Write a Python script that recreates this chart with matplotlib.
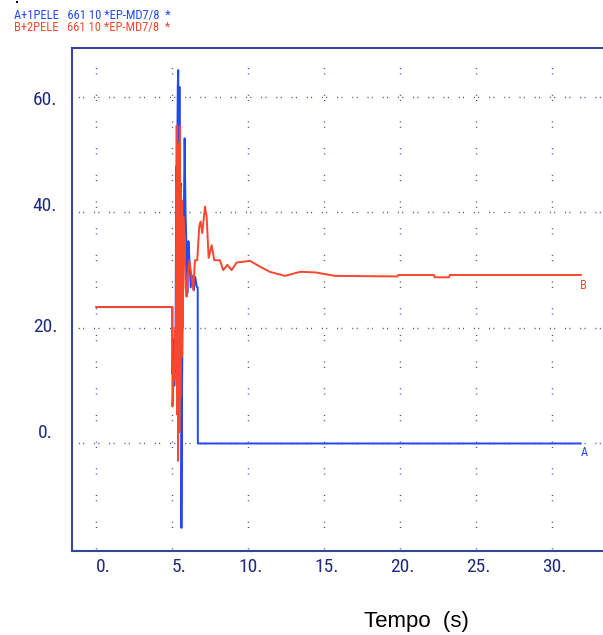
import matplotlib
matplotlib.use("Agg")
import matplotlib.pyplot as plt
from matplotlib import font_manager
from matplotlib.patches import Rectangle
from matplotlib.transforms import ScaledTranslation

# ---- data -----------------------------------------------------------------
# Series A: 1PELE (generator 1 electrical power), trips shortly after the fault
time_a = [0.0, 4.99, 5.00, 5.05, 5.12, 5.20, 5.25, 5.30, 5.35, 5.38, 5.42,
          5.46, 5.50, 5.55, 5.59, 5.63, 5.70, 5.75, 5.80, 5.86, 5.92, 5.98,
          6.05, 6.12, 6.20, 6.30, 6.40, 6.50, 6.60, 6.66, 6.67, 31.85]
pele_a = [23.6, 23.6, 12.0, 18.0, 10.0, 15.0, 48.0, 44.0, 62.0, 64.6, 30.0,
          61.7, 23.0, 45.0, -14.6, 10.0, 30.0, 40.0, 52.8, 40.0, 34.0, 26.0,
          35.0, 31.7, 27.0, 29.0, 26.5, 28.8, 27.1, 27.0, 0.0, 0.0]

# Series B: 2PELE (generator 2 electrical power), picks up the load
time_b = [0.0, 4.99, 5.00, 5.04, 5.08, 5.12, 5.17, 5.22, 5.28, 5.31, 5.34,
          5.37, 5.41, 5.45, 5.49, 5.52, 5.56, 5.60, 5.64, 5.68, 5.72, 5.76,
          5.80, 5.86, 5.93, 6.00, 6.11, 6.26, 6.37, 6.48, 6.63, 6.76, 6.85,
          6.96, 7.14, 7.25, 7.38, 7.58, 7.75, 8.12, 8.34, 8.61, 8.89, 9.22,
          10.10, 10.76, 11.40, 12.40, 13.40, 14.40, 15.70, 19.80, 19.85,
          22.20, 22.25, 23.20, 23.25, 31.87]
pele_b = [23.6, 23.6, 6.4, 9.0, 14.0, 11.0, 20.0, 13.0, 55.0, 5.0, 52.0,
          -3.0, 50.0, 2.0, 54.8, 8.0, 44.4, 15.0, 42.0, 20.0, 39.2, 31.7,
          36.0, 27.0, 25.4, 29.0, 31.7, 28.9, 26.6, 31.7, 31.7, 37.5, 38.4,
          36.4, 41.0, 39.2, 32.1, 34.3, 31.7, 31.7, 30.0, 30.9, 30.0, 31.3,
          31.6, 30.6, 29.7, 29.0, 29.7, 29.6, 29.0, 28.9, 29.15,
          29.15, 28.75, 28.75, 29.15, 29.15]

x_ticks = [0, 5, 10, 15, 20, 25, 30]
x_tick_labels = ["0.", "5.", "10.", "15.", "20.", "25.", "30."]
y_ticks = [0, 20, 40, 60]
y_tick_labels = ["0.", "20.", "40.", "60."]

header_a = "A+1PELE   661 10 *EP-MD7/8  *"
header_b = "B+2PELE   661 10 *EP-MD7/8  *"
x_title = "Tempo  (s)"

# ---- style ----------------------------------------------------------------
BLUE = "#2447ee"
RED = "#f7472c"
NAVY = "#3646a0"
LABEL = "#1f2b80"

installed = {f.name for f in font_manager.fontManager.ttflist}
narrow = next((n for n in ["Liberation Sans Narrow", "Roboto Condensed",
                           "Liberation Sans"] if n in installed), "DejaVu Sans")
plain = "Liberation Sans" if "Liberation Sans" in installed else "DejaVu Sans"
plt.rcParams["lines.scale_dashes"] = False

W, H = 603, 635
fig = plt.figure(figsize=(W / 100, H / 100), dpi=100)
left_px, right_px, top_px, bottom_px = 72.3, 640.0, 48.3, 551.0
ax = fig.add_axes([left_px / W, (H - bottom_px) / H,
                   (right_px - left_px) / W, (bottom_px - top_px) / H])
ax.set_xlim(-1.59, 35.76)
ax.set_ylim(-18.6, 68.37)

# curves
ax.plot(time_a, pele_a, color=BLUE, lw=1.4, zorder=3)
ax.plot(time_b, pele_b, color=RED, lw=1.4, zorder=4)

# end-of-curve identifiers
ax.annotate("A", xy=(time_a[-1], pele_a[-1]), xytext=(2.4, -6.3),
            textcoords="offset points", ha="center", va="center",
            color=BLUE, fontsize=9, family=narrow)
ax.annotate("B", xy=(time_b[-1], pele_b[-1]), xytext=(1.6, -7.3),
            textcoords="offset points", ha="center", va="center",
            color=RED, fontsize=9, family=narrow)

# dotted grid made of dot pairs
ax.set_xticks(x_ticks, labels=x_tick_labels)
ax.set_yticks(y_ticks, labels=y_tick_labels)
ax.grid(axis="x", color=NAVY, lw=1.0,
        linestyle=(2.27, (0.72, 3.1, 0.72, 14.67)))
ax.grid(axis="y", color=NAVY, lw=1.0,
        linestyle=(6.38, (0.72, 2.4, 0.72, 7.1)))
ax.set_axisbelow(True)

for side in ["left", "bottom", "top"]:
    ax.spines[side].set_color(NAVY)
    ax.spines[side].set_linewidth(1.5)
ax.spines["right"].set_visible(False)

ax.tick_params(axis="both", length=0, labelcolor=LABEL, labelsize=14)
ax.tick_params(axis="x", pad=11.5)
ax.tick_params(axis="y", pad=19.7)

for lab in ax.get_xticklabels():
    lab.set_family(narrow)
    lab.set_ha("right")
    lab.set_va("center")
    lab.set_transform(lab.get_transform() +
                      ScaledTranslation(0.14, 0, fig.dpi_scale_trans))

y_label_shift = [10.2, 1.2, 6.6, -3.3]
for lab, dy in zip(ax.get_yticklabels(), y_label_shift):
    lab.set_family(narrow)
    lab.set_ha("center")
    lab.set_va("center")
    lab.set_transform(lab.get_transform() +
                      ScaledTranslation(0, dy / 100, fig.dpi_scale_trans))

# header and axis title
fig.text(14 / W, 1 - 15 / H, header_a, color=BLUE, fontsize=9,
         family=narrow, va="center", ha="left")
fig.text(14 / W, 1 - 27 / H, header_b, color=RED, fontsize=9,
         family=narrow, va="center", ha="left")
# small marker square in the top-left corner
fig.add_artist(Rectangle((15.8 / W, 1 - 3.2 / H), 2 / W, 2 / H,
                         transform=fig.transFigure, color="black", lw=0))
fig.text(416.7 / W, 1 - 621.7 / H, x_title, color="black", fontsize=16,
         family=plain, ha="center", va="center")

fig.savefig("out.png", dpi=100)
